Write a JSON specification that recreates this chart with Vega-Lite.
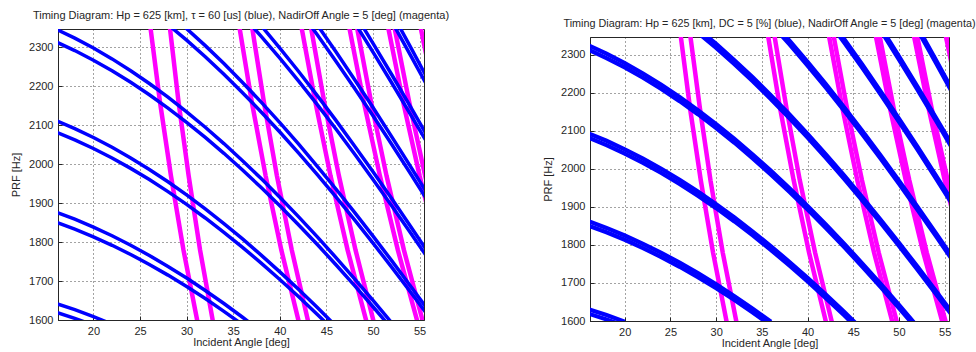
{
"$schema":"https://vega.github.io/schema/vega-lite/v6.json",
"autosize":{"type":"pad"},
"padding":{"left":10,"top":9,"right":0,"bottom":0},
"background":"white",
"config":{
 "font":"Liberation Sans",
 "view":{"stroke":"#262626","strokeWidth":1},
 "axis":{"labelFont":"Liberation Sans","labelFontSize":11,"labelColor":"#262626","titleFont":"Liberation Sans","titleFontSize":11,"titleFontWeight":"normal","titleColor":"#262626","domainColor":"#262626","tickColor":"#262626","tickSize":-4,"labelPadding":9,"gridColor":"#262626","gridDash":[1,3],"gridOpacity":0.85},
 "axisX":{"titlePadding":0},
 "axisY":{"titlePadding":7,"format":"d"},
 "title":{"font":"Liberation Sans","fontSize":11,"fontWeight":"normal","color":"#262626","offset":8}
},
"spacing":92,
"datasets":{"d":[
{"p":"B","s":"b","id":"k7l","a":16,"f":1619.7},{"p":"B","s":"b","id":"k7l","a":18,"f":1604.2},{"p":"B","s":"b","id":"k7l","a":20,"f":1586.9},
{"p":"B","s":"b","id":"k8l","a":16,"f":1851.1},{"p":"B","s":"b","id":"k8l","a":18,"f":1833.3},{"p":"B","s":"b","id":"k8l","a":20,"f":1813.6},{"p":"B","s":"b","id":"k8l","a":22,"f":1791.8},{"p":"B","s":"b","id":"k8l","a":24,"f":1768.2},{"p":"B","s":"b","id":"k8l","a":26,"f":1742.6},{"p":"B","s":"b","id":"k8l","a":28,"f":1715.2},{"p":"B","s":"b","id":"k8l","a":30,"f":1686.0},{"p":"B","s":"b","id":"k8l","a":32,"f":1655.0},{"p":"B","s":"b","id":"k8l","a":34,"f":1622.3},{"p":"B","s":"b","id":"k8l","a":36,"f":1588.0},
{"p":"B","s":"b","id":"k9l","a":16,"f":2082.5},{"p":"B","s":"b","id":"k9l","a":18,"f":2062.5},{"p":"B","s":"b","id":"k9l","a":20,"f":2040.3},{"p":"B","s":"b","id":"k9l","a":22,"f":2015.8},{"p":"B","s":"b","id":"k9l","a":24,"f":1989.2},{"p":"B","s":"b","id":"k9l","a":26,"f":1960.5},{"p":"B","s":"b","id":"k9l","a":28,"f":1929.6},{"p":"B","s":"b","id":"k9l","a":30,"f":1896.8},{"p":"B","s":"b","id":"k9l","a":32,"f":1861.9},{"p":"B","s":"b","id":"k9l","a":34,"f":1825.1},{"p":"B","s":"b","id":"k9l","a":36,"f":1786.5},{"p":"B","s":"b","id":"k9l","a":38,"f":1746.1},{"p":"B","s":"b","id":"k9l","a":40,"f":1704.0},{"p":"B","s":"b","id":"k9l","a":42,"f":1660.2},{"p":"B","s":"b","id":"k9l","a":44,"f":1615.0},{"p":"B","s":"b","id":"k9l","a":46,"f":1568.2},
{"p":"B","s":"b","id":"k10l","a":16,"f":2313.9},{"p":"B","s":"b","id":"k10l","a":18,"f":2291.7},{"p":"B","s":"b","id":"k10l","a":20,"f":2267.0},{"p":"B","s":"b","id":"k10l","a":22,"f":2239.8},{"p":"B","s":"b","id":"k10l","a":24,"f":2210.2},{"p":"B","s":"b","id":"k10l","a":26,"f":2178.3},{"p":"B","s":"b","id":"k10l","a":28,"f":2144.0},{"p":"B","s":"b","id":"k10l","a":30,"f":2107.5},{"p":"B","s":"b","id":"k10l","a":32,"f":2068.8},{"p":"B","s":"b","id":"k10l","a":34,"f":2027.9},{"p":"B","s":"b","id":"k10l","a":36,"f":1985.0},{"p":"B","s":"b","id":"k10l","a":38,"f":1940.1},{"p":"B","s":"b","id":"k10l","a":40,"f":1893.3},{"p":"B","s":"b","id":"k10l","a":42,"f":1844.7},{"p":"B","s":"b","id":"k10l","a":44,"f":1794.4},{"p":"B","s":"b","id":"k10l","a":46,"f":1742.4},{"p":"B","s":"b","id":"k10l","a":48,"f":1688.9},{"p":"B","s":"b","id":"k10l","a":50,"f":1634.0},{"p":"B","s":"b","id":"k10l","a":52,"f":1577.9},
{"p":"B","s":"b","id":"k11l","a":28,"f":2358.4},{"p":"B","s":"b","id":"k11l","a":30,"f":2318.3},{"p":"B","s":"b","id":"k11l","a":32,"f":2275.7},{"p":"B","s":"b","id":"k11l","a":34,"f":2230.7},{"p":"B","s":"b","id":"k11l","a":36,"f":2183.5},{"p":"B","s":"b","id":"k11l","a":38,"f":2134.1},{"p":"B","s":"b","id":"k11l","a":40,"f":2082.7},{"p":"B","s":"b","id":"k11l","a":42,"f":2029.2},{"p":"B","s":"b","id":"k11l","a":44,"f":1973.8},{"p":"B","s":"b","id":"k11l","a":46,"f":1916.6},{"p":"B","s":"b","id":"k11l","a":48,"f":1857.8},{"p":"B","s":"b","id":"k11l","a":50,"f":1797.4},{"p":"B","s":"b","id":"k11l","a":52,"f":1735.7},{"p":"B","s":"b","id":"k11l","a":54,"f":1672.6},{"p":"B","s":"b","id":"k11l","a":56,"f":1608.4},
{"p":"B","s":"b","id":"k12l","a":36,"f":2382.0},{"p":"B","s":"b","id":"k12l","a":38,"f":2328.1},{"p":"B","s":"b","id":"k12l","a":40,"f":2272.0},{"p":"B","s":"b","id":"k12l","a":42,"f":2213.7},{"p":"B","s":"b","id":"k12l","a":44,"f":2153.3},{"p":"B","s":"b","id":"k12l","a":46,"f":2090.9},{"p":"B","s":"b","id":"k12l","a":48,"f":2026.7},{"p":"B","s":"b","id":"k12l","a":50,"f":1960.8},{"p":"B","s":"b","id":"k12l","a":52,"f":1893.5},{"p":"B","s":"b","id":"k12l","a":54,"f":1824.6},{"p":"B","s":"b","id":"k12l","a":56,"f":1754.7},
{"p":"B","s":"b","id":"k13l","a":42,"f":2398.1},{"p":"B","s":"b","id":"k13l","a":44,"f":2332.7},{"p":"B","s":"b","id":"k13l","a":46,"f":2265.1},{"p":"B","s":"b","id":"k13l","a":48,"f":2195.6},{"p":"B","s":"b","id":"k13l","a":50,"f":2124.2},{"p":"B","s":"b","id":"k13l","a":52,"f":2051.2},{"p":"B","s":"b","id":"k13l","a":54,"f":1976.7},{"p":"B","s":"b","id":"k13l","a":56,"f":1900.9},
{"p":"B","s":"b","id":"k14l","a":46,"f":2439.3},{"p":"B","s":"b","id":"k14l","a":48,"f":2364.5},{"p":"B","s":"b","id":"k14l","a":50,"f":2287.6},{"p":"B","s":"b","id":"k14l","a":52,"f":2209.0},{"p":"B","s":"b","id":"k14l","a":54,"f":2128.7},{"p":"B","s":"b","id":"k14l","a":56,"f":2047.1},
{"p":"B","s":"b","id":"k15l","a":50,"f":2451.0},{"p":"B","s":"b","id":"k15l","a":52,"f":2366.8},{"p":"B","s":"b","id":"k15l","a":54,"f":2280.8},{"p":"B","s":"b","id":"k15l","a":56,"f":2193.3},
{"p":"L","s":"b","id":"k7h","a":16,"f":1642.5},{"p":"L","s":"b","id":"k7h","a":18,"f":1626.5},{"p":"L","s":"b","id":"k7h","a":20,"f":1608.7},{"p":"L","s":"b","id":"k7h","a":22,"f":1589.2},
{"p":"L","s":"b","id":"k8h","a":16,"f":1877.1},{"p":"L","s":"b","id":"k8h","a":18,"f":1858.9},{"p":"L","s":"b","id":"k8h","a":20,"f":1838.6},{"p":"L","s":"b","id":"k8h","a":22,"f":1816.2},{"p":"L","s":"b","id":"k8h","a":24,"f":1791.9},{"p":"L","s":"b","id":"k8h","a":26,"f":1765.7},{"p":"L","s":"b","id":"k8h","a":28,"f":1737.6},{"p":"L","s":"b","id":"k8h","a":30,"f":1707.6},{"p":"L","s":"b","id":"k8h","a":32,"f":1675.8},{"p":"L","s":"b","id":"k8h","a":34,"f":1642.3},{"p":"L","s":"b","id":"k8h","a":36,"f":1607.1},{"p":"L","s":"b","id":"k8h","a":38,"f":1570.4},
{"p":"L","s":"b","id":"k9h","a":16,"f":2111.8},{"p":"L","s":"b","id":"k9h","a":18,"f":2091.2},{"p":"L","s":"b","id":"k9h","a":20,"f":2068.4},{"p":"L","s":"b","id":"k9h","a":22,"f":2043.3},{"p":"L","s":"b","id":"k9h","a":24,"f":2015.9},{"p":"L","s":"b","id":"k9h","a":26,"f":1986.4},{"p":"L","s":"b","id":"k9h","a":28,"f":1954.8},{"p":"L","s":"b","id":"k9h","a":30,"f":1921.1},{"p":"L","s":"b","id":"k9h","a":32,"f":1885.3},{"p":"L","s":"b","id":"k9h","a":34,"f":1847.6},{"p":"L","s":"b","id":"k9h","a":36,"f":1808.0},{"p":"L","s":"b","id":"k9h","a":38,"f":1766.7},{"p":"L","s":"b","id":"k9h","a":40,"f":1723.6},{"p":"L","s":"b","id":"k9h","a":42,"f":1678.9},{"p":"L","s":"b","id":"k9h","a":44,"f":1632.5},{"p":"L","s":"b","id":"k9h","a":46,"f":1584.7},
{"p":"L","s":"b","id":"k10h","a":16,"f":2346.4},{"p":"L","s":"b","id":"k10h","a":18,"f":2323.6},{"p":"L","s":"b","id":"k10h","a":20,"f":2298.2},{"p":"L","s":"b","id":"k10h","a":22,"f":2270.3},{"p":"L","s":"b","id":"k10h","a":24,"f":2239.9},{"p":"L","s":"b","id":"k10h","a":26,"f":2207.1},{"p":"L","s":"b","id":"k10h","a":28,"f":2172.0},{"p":"L","s":"b","id":"k10h","a":30,"f":2134.5},{"p":"L","s":"b","id":"k10h","a":32,"f":2094.8},{"p":"L","s":"b","id":"k10h","a":34,"f":2052.9},{"p":"L","s":"b","id":"k10h","a":36,"f":2008.9},{"p":"L","s":"b","id":"k10h","a":38,"f":1963.0},{"p":"L","s":"b","id":"k10h","a":40,"f":1915.1},{"p":"L","s":"b","id":"k10h","a":42,"f":1865.4},{"p":"L","s":"b","id":"k10h","a":44,"f":1813.9},{"p":"L","s":"b","id":"k10h","a":46,"f":1760.8},{"p":"L","s":"b","id":"k10h","a":48,"f":1706.2},{"p":"L","s":"b","id":"k10h","a":50,"f":1650.2},{"p":"L","s":"b","id":"k10h","a":52,"f":1593.0},{"p":"L","s":"b","id":"k10h","a":54,"f":1534.5},
{"p":"L","s":"b","id":"k11h","a":28,"f":2389.2},{"p":"L","s":"b","id":"k11h","a":30,"f":2347.9},{"p":"L","s":"b","id":"k11h","a":32,"f":2304.3},{"p":"L","s":"b","id":"k11h","a":34,"f":2258.2},{"p":"L","s":"b","id":"k11h","a":36,"f":2209.8},{"p":"L","s":"b","id":"k11h","a":38,"f":2159.3},{"p":"L","s":"b","id":"k11h","a":40,"f":2106.6},{"p":"L","s":"b","id":"k11h","a":42,"f":2051.9},{"p":"L","s":"b","id":"k11h","a":44,"f":1995.3},{"p":"L","s":"b","id":"k11h","a":46,"f":1936.9},{"p":"L","s":"b","id":"k11h","a":48,"f":1876.8},{"p":"L","s":"b","id":"k11h","a":50,"f":1815.2},{"p":"L","s":"b","id":"k11h","a":52,"f":1752.3},{"p":"L","s":"b","id":"k11h","a":54,"f":1688.0},{"p":"L","s":"b","id":"k11h","a":56,"f":1622.7},
{"p":"L","s":"b","id":"k12h","a":36,"f":2410.7},{"p":"L","s":"b","id":"k12h","a":38,"f":2355.6},{"p":"L","s":"b","id":"k12h","a":40,"f":2298.1},{"p":"L","s":"b","id":"k12h","a":42,"f":2238.5},{"p":"L","s":"b","id":"k12h","a":44,"f":2176.7},{"p":"L","s":"b","id":"k12h","a":46,"f":2113.0},{"p":"L","s":"b","id":"k12h","a":48,"f":2047.5},{"p":"L","s":"b","id":"k12h","a":50,"f":1980.3},{"p":"L","s":"b","id":"k12h","a":52,"f":1911.6},{"p":"L","s":"b","id":"k12h","a":54,"f":1841.4},{"p":"L","s":"b","id":"k12h","a":56,"f":1770.2},
{"p":"L","s":"b","id":"k13h","a":42,"f":2425.0},{"p":"L","s":"b","id":"k13h","a":44,"f":2358.1},{"p":"L","s":"b","id":"k13h","a":46,"f":2289.0},{"p":"L","s":"b","id":"k13h","a":48,"f":2218.1},{"p":"L","s":"b","id":"k13h","a":50,"f":2145.3},{"p":"L","s":"b","id":"k13h","a":52,"f":2070.8},{"p":"L","s":"b","id":"k13h","a":54,"f":1994.9},{"p":"L","s":"b","id":"k13h","a":56,"f":1917.8},
{"p":"L","s":"b","id":"k14h","a":48,"f":2388.7},{"p":"L","s":"b","id":"k14h","a":50,"f":2310.3},{"p":"L","s":"b","id":"k14h","a":52,"f":2230.2},{"p":"L","s":"b","id":"k14h","a":54,"f":2148.4},{"p":"L","s":"b","id":"k14h","a":56,"f":2065.2},
{"p":"L","s":"b","id":"k15h","a":52,"f":2389.5},{"p":"L","s":"b","id":"k15h","a":54,"f":2301.8},{"p":"L","s":"b","id":"k15h","a":56,"f":2212.7},
{"p":"R","s":"b","id":"k7r","a":16,"f":1631.3},{"p":"R","s":"b","id":"k7r","a":18,"f":1615.7},{"p":"R","s":"b","id":"k7r","a":20,"f":1598.2},
{"p":"R","s":"b","id":"k8r","a":16,"f":1862.7},{"p":"R","s":"b","id":"k8r","a":18,"f":1844.8},{"p":"R","s":"b","id":"k8r","a":20,"f":1824.9},{"p":"R","s":"b","id":"k8r","a":22,"f":1803.0},{"p":"R","s":"b","id":"k8r","a":24,"f":1779.3},{"p":"R","s":"b","id":"k8r","a":26,"f":1753.5},{"p":"R","s":"b","id":"k8r","a":28,"f":1725.9},{"p":"R","s":"b","id":"k8r","a":30,"f":1696.5},{"p":"R","s":"b","id":"k8r","a":32,"f":1665.3},{"p":"R","s":"b","id":"k8r","a":34,"f":1632.4},{"p":"R","s":"b","id":"k8r","a":36,"f":1597.9},
{"p":"R","s":"b","id":"k9r","a":16,"f":2094.1},{"p":"R","s":"b","id":"k9r","a":18,"f":2074.0},{"p":"R","s":"b","id":"k9r","a":20,"f":2051.6},{"p":"R","s":"b","id":"k9r","a":22,"f":2027.0},{"p":"R","s":"b","id":"k9r","a":24,"f":2000.3},{"p":"R","s":"b","id":"k9r","a":26,"f":1971.4},{"p":"R","s":"b","id":"k9r","a":28,"f":1940.3},{"p":"R","s":"b","id":"k9r","a":30,"f":1907.3},{"p":"R","s":"b","id":"k9r","a":32,"f":1872.2},{"p":"R","s":"b","id":"k9r","a":34,"f":1835.2},{"p":"R","s":"b","id":"k9r","a":36,"f":1796.4},{"p":"R","s":"b","id":"k9r","a":38,"f":1755.8},{"p":"R","s":"b","id":"k9r","a":40,"f":1713.5},{"p":"R","s":"b","id":"k9r","a":42,"f":1669.4},{"p":"R","s":"b","id":"k9r","a":44,"f":1624.0},{"p":"R","s":"b","id":"k9r","a":46,"f":1576.9},
{"p":"R","s":"b","id":"k10r","a":16,"f":2325.5},{"p":"R","s":"b","id":"k10r","a":18,"f":2303.2},{"p":"R","s":"b","id":"k10r","a":20,"f":2278.3},{"p":"R","s":"b","id":"k10r","a":22,"f":2251.0},{"p":"R","s":"b","id":"k10r","a":24,"f":2221.3},{"p":"R","s":"b","id":"k10r","a":26,"f":2189.2},{"p":"R","s":"b","id":"k10r","a":28,"f":2154.7},{"p":"R","s":"b","id":"k10r","a":30,"f":2118.0},{"p":"R","s":"b","id":"k10r","a":32,"f":2079.1},{"p":"R","s":"b","id":"k10r","a":34,"f":2038.0},{"p":"R","s":"b","id":"k10r","a":36,"f":1994.9},{"p":"R","s":"b","id":"k10r","a":38,"f":1949.8},{"p":"R","s":"b","id":"k10r","a":40,"f":1902.8},{"p":"R","s":"b","id":"k10r","a":42,"f":1853.9},{"p":"R","s":"b","id":"k10r","a":44,"f":1803.4},{"p":"R","s":"b","id":"k10r","a":46,"f":1751.1},{"p":"R","s":"b","id":"k10r","a":48,"f":1697.3},{"p":"R","s":"b","id":"k10r","a":50,"f":1642.2},{"p":"R","s":"b","id":"k10r","a":52,"f":1585.8},
{"p":"R","s":"b","id":"k11r","a":28,"f":2369.1},{"p":"R","s":"b","id":"k11r","a":30,"f":2328.8},{"p":"R","s":"b","id":"k11r","a":32,"f":2286.0},{"p":"R","s":"b","id":"k11r","a":34,"f":2240.8},{"p":"R","s":"b","id":"k11r","a":36,"f":2193.4},{"p":"R","s":"b","id":"k11r","a":38,"f":2143.8},{"p":"R","s":"b","id":"k11r","a":40,"f":2092.2},{"p":"R","s":"b","id":"k11r","a":42,"f":2038.4},{"p":"R","s":"b","id":"k11r","a":44,"f":1982.8},{"p":"R","s":"b","id":"k11r","a":46,"f":1925.3},{"p":"R","s":"b","id":"k11r","a":48,"f":1866.2},{"p":"R","s":"b","id":"k11r","a":50,"f":1805.6},{"p":"R","s":"b","id":"k11r","a":52,"f":1743.6},{"p":"R","s":"b","id":"k11r","a":54,"f":1680.2},{"p":"R","s":"b","id":"k11r","a":56,"f":1615.7},
{"p":"R","s":"b","id":"k12r","a":36,"f":2391.9},{"p":"R","s":"b","id":"k12r","a":38,"f":2337.8},{"p":"R","s":"b","id":"k12r","a":40,"f":2281.5},{"p":"R","s":"b","id":"k12r","a":42,"f":2222.9},{"p":"R","s":"b","id":"k12r","a":44,"f":2162.3},{"p":"R","s":"b","id":"k12r","a":46,"f":2099.6},{"p":"R","s":"b","id":"k12r","a":48,"f":2035.1},{"p":"R","s":"b","id":"k12r","a":50,"f":1969.0},{"p":"R","s":"b","id":"k12r","a":52,"f":1901.4},{"p":"R","s":"b","id":"k12r","a":54,"f":1832.2},{"p":"R","s":"b","id":"k12r","a":56,"f":1762.0},
{"p":"R","s":"b","id":"k13r","a":42,"f":2407.3},{"p":"R","s":"b","id":"k13r","a":44,"f":2341.7},{"p":"R","s":"b","id":"k13r","a":46,"f":2273.8},{"p":"R","s":"b","id":"k13r","a":48,"f":2204.0},{"p":"R","s":"b","id":"k13r","a":50,"f":2132.4},{"p":"R","s":"b","id":"k13r","a":52,"f":2059.1},{"p":"R","s":"b","id":"k13r","a":54,"f":1984.3},{"p":"R","s":"b","id":"k13r","a":56,"f":1908.2},
{"p":"R","s":"b","id":"k14r","a":46,"f":2448.0},{"p":"R","s":"b","id":"k14r","a":48,"f":2373.0},{"p":"R","s":"b","id":"k14r","a":50,"f":2295.8},{"p":"R","s":"b","id":"k14r","a":52,"f":2216.9},{"p":"R","s":"b","id":"k14r","a":54,"f":2136.3},{"p":"R","s":"b","id":"k14r","a":56,"f":2054.4},
{"p":"R","s":"b","id":"k15r","a":50,"f":2459.2},{"p":"R","s":"b","id":"k15r","a":52,"f":2374.7},{"p":"R","s":"b","id":"k15r","a":54,"f":2288.4},{"p":"R","s":"b","id":"k15r","a":56,"f":2200.6},
{"p":"B","s":"m","id":"m1l","a":31.21,"f":1590},{"p":"B","s":"m","id":"m1l","a":29.66,"f":1780},{"p":"B","s":"m","id":"m1l","a":28.32,"f":1970},{"p":"B","s":"m","id":"m1l","a":27.14,"f":2160},{"p":"B","s":"m","id":"m1l","a":26.07,"f":2360},
{"p":"B","s":"m","id":"m2l","a":42.09,"f":1590},{"p":"B","s":"m","id":"m2l","a":40.16,"f":1780},{"p":"B","s":"m","id":"m2l","a":38.48,"f":1970},{"p":"B","s":"m","id":"m2l","a":36.99,"f":2160},{"p":"B","s":"m","id":"m2l","a":35.61,"f":2360},
{"p":"B","s":"m","id":"m3l","a":49.36,"f":1590},{"p":"B","s":"m","id":"m3l","a":47.27,"f":1780},{"p":"B","s":"m","id":"m3l","a":45.44,"f":1970},{"p":"B","s":"m","id":"m3l","a":43.81,"f":2160},{"p":"B","s":"m","id":"m3l","a":42.26,"f":2360},
{"p":"B","s":"m","id":"m4l","a":54.83,"f":1590},{"p":"B","s":"m","id":"m4l","a":52.66,"f":1780},{"p":"B","s":"m","id":"m4l","a":50.74,"f":1970},{"p":"B","s":"m","id":"m4l","a":49.01,"f":2160},{"p":"B","s":"m","id":"m4l","a":47.38,"f":2360},
{"p":"B","s":"m","id":"m5l","a":56.97,"f":1780},{"p":"B","s":"m","id":"m5l","a":55.00,"f":1970},{"p":"B","s":"m","id":"m5l","a":53.23,"f":2160},{"p":"B","s":"m","id":"m5l","a":51.55,"f":2360},
{"p":"B","s":"m","id":"m6l","a":56.75,"f":2160},{"p":"B","s":"m","id":"m6l","a":55.03,"f":2360},
{"p":"L","s":"m","id":"m1u","a":32.87,"f":1590},{"p":"L","s":"m","id":"m1u","a":31.44,"f":1780},{"p":"L","s":"m","id":"m1u","a":30.22,"f":1970},{"p":"L","s":"m","id":"m1u","a":29.13,"f":2160},{"p":"L","s":"m","id":"m1u","a":28.16,"f":2360},
{"p":"L","s":"m","id":"m2u","a":43.10,"f":1590},{"p":"L","s":"m","id":"m2u","a":41.28,"f":1780},{"p":"L","s":"m","id":"m2u","a":39.69,"f":1970},{"p":"L","s":"m","id":"m2u","a":38.29,"f":2160},{"p":"L","s":"m","id":"m2u","a":36.97,"f":2360},
{"p":"L","s":"m","id":"m3u","a":50.13,"f":1590},{"p":"L","s":"m","id":"m3u","a":48.12,"f":1780},{"p":"L","s":"m","id":"m3u","a":46.34,"f":1970},{"p":"L","s":"m","id":"m3u","a":44.76,"f":2160},{"p":"L","s":"m","id":"m3u","a":43.28,"f":2360},
{"p":"L","s":"m","id":"m4u","a":55.42,"f":1590},{"p":"L","s":"m","id":"m4u","a":53.31,"f":1780},{"p":"L","s":"m","id":"m4u","a":51.45,"f":1970},{"p":"L","s":"m","id":"m4u","a":49.79,"f":2160},{"p":"L","s":"m","id":"m4u","a":48.21,"f":2360},
{"p":"L","s":"m","id":"m5u","a":57.51,"f":1780},{"p":"L","s":"m","id":"m5u","a":55.59,"f":1970},{"p":"L","s":"m","id":"m5u","a":53.88,"f":2160},{"p":"L","s":"m","id":"m5u","a":52.23,"f":2360},
{"p":"R","s":"m","id":"m1v","a":32.28,"f":1590},{"p":"R","s":"m","id":"m1v","a":30.72,"f":1780},{"p":"R","s":"m","id":"m1v","a":29.38,"f":1970},{"p":"R","s":"m","id":"m1v","a":28.22,"f":2160},{"p":"R","s":"m","id":"m1v","a":27.12,"f":2360},
{"p":"R","s":"m","id":"m2v","a":42.73,"f":1590},{"p":"R","s":"m","id":"m2v","a":40.82,"f":1780},{"p":"R","s":"m","id":"m2v","a":39.15,"f":1970},{"p":"R","s":"m","id":"m2v","a":37.69,"f":2160},{"p":"R","s":"m","id":"m2v","a":36.31,"f":2360},
{"p":"R","s":"m","id":"m3v","a":49.85,"f":1590},{"p":"R","s":"m","id":"m3v","a":47.78,"f":1780},{"p":"R","s":"m","id":"m3v","a":45.95,"f":1970},{"p":"R","s":"m","id":"m3v","a":44.31,"f":2160},{"p":"R","s":"m","id":"m3v","a":42.77,"f":2360},
{"p":"R","s":"m","id":"m4v","a":55.20,"f":1590},{"p":"R","s":"m","id":"m4v","a":53.04,"f":1780},{"p":"R","s":"m","id":"m4v","a":51.13,"f":1970},{"p":"R","s":"m","id":"m4v","a":49.42,"f":2160},{"p":"R","s":"m","id":"m4v","a":47.80,"f":2360},
{"p":"R","s":"m","id":"m5v","a":57.29,"f":1780},{"p":"R","s":"m","id":"m5v","a":55.33,"f":1970},{"p":"R","s":"m","id":"m5v","a":53.57,"f":2160},{"p":"R","s":"m","id":"m5v","a":51.90,"f":2360},
{"p":"R","s":"m","id":"m6v","a":57.03,"f":2160},{"p":"R","s":"m","id":"m6v","a":55.33,"f":2360}
]},
"hconcat":[
{
 "width":366,"height":291,
 "title":{"text":"Timing Diagram: Hp = 625 [km], τ = 60 [us] (blue), NadirOff Angle = 5 [deg] (magenta)"},
 "data":{"name":"d"},
 "transform":[{"filter":{"field":"p","oneOf":["B","L"]}}],
 "encoding":{
  "x":{"field":"a","type":"quantitative","scale":{"domain":[16.2,55.47],"nice":false,"zero":false},"axis":{"title":"Incident Angle [deg]","values":[20,25,30,35,40,45,50,55]}},
  "y":{"field":"f","type":"quantitative","scale":{"domain":[1600,2347],"nice":false,"zero":false},"axis":{"title":"PRF [Hz]","values":[1600,1700,1800,1900,2000,2100,2200,2300]}},
  "detail":{"field":"id"}
 },
 "layer":[
  {"transform":[{"filter":"datum.s=='m'"}],"mark":{"type":"line","clip":true,"color":"#ff00ff","strokeWidth":4.5}},
  {"transform":[{"filter":"datum.s=='b'"}],"mark":{"type":"line","clip":true,"color":"#0000ff","strokeWidth":3.5}}
 ]
},
{
 "spacing":-13,
 "vconcat":[
  {"width":359,"height":1,"data":{"values":[]},"mark":"point","view":{"stroke":null}},
  {
   "width":359,"height":284,
   "title":{"text":"Timing Diagram: Hp = 625 [km], DC = 5 [%] (blue), NadirOff Angle = 5 [deg] (magenta)","fontSize":10.8},
   "data":{"name":"d"},
   "transform":[{"filter":{"field":"p","oneOf":["B","R"]}}],
   "encoding":{
    "x":{"field":"a","type":"quantitative","scale":{"domain":[16.2,55.47],"nice":false,"zero":false},"axis":{"title":"Incident Angle [deg]","values":[20,25,30,35,40,45,50,55]}},
    "y":{"field":"f","type":"quantitative","scale":{"domain":[1600,2347],"nice":false,"zero":false},"axis":{"title":"PRF [Hz]","values":[1600,1700,1800,1900,2000,2100,2200,2300]}},
    "detail":{"field":"id"}
   },
   "layer":[
    {"transform":[{"filter":"datum.s=='m'"}],"mark":{"type":"line","clip":true,"color":"#ff00ff","strokeWidth":4.5}},
    {"transform":[{"filter":"datum.s=='b'"}],"mark":{"type":"line","clip":true,"color":"#0000ff","strokeWidth":4.2}}
   ]
  }
 ]
}
],
"resolve":{"scale":{"x":"independent","y":"independent"}}
}
